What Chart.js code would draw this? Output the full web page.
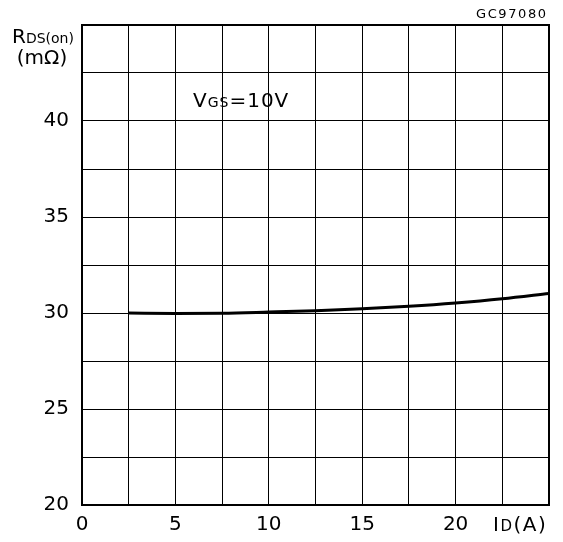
<!DOCTYPE html>
<html>
<head>
<meta charset="utf-8">
<script src="https://cdn.jsdelivr.net/npm/chart.js@4.4.1/dist/chart.umd.min.js"></script>
<style>
    html, body { margin: 0; padding: 0; background: #fff; }
    #wrap { width: 563px; height: 542px; }
</style>
</head>
<body>
<div id="wrap"><canvas id="rdsChart"></canvas></div>
<script>
// corriente de drenaje (A) y resistencia (mOhm)
const corriente = [2.5, 5, 7.5, 10, 12.5, 15, 17.5, 20, 22.5, 25];
const rdsOn = [30.0, 29.98, 29.99, 30.05, 30.12, 30.22, 30.35, 30.52, 30.74, 31.02];
const ticksX = [0, 5, 10, 15, 20];
const ticksY = [20, 25, 30, 35, 40];

const FONT = '"DejaVu Sans", sans-serif';

// dibuja texto con partes de distinto tamano (subindices), letra por letra
function textoMixto(ctx, partes, x, y, esp) {
    let cx = x;
    partes.forEach(p => {
        ctx.font = p.size + 'px ' + FONT;
        for (const ch of p.t) {
            ctx.fillText(ch, cx, y);
            cx += ctx.measureText(ch).width + (esp || 0);
        }
    });
}

const etiquetas = {
    id: 'etiquetas',
    afterDraw(chart) {
        const ctx = chart.ctx;
        const a = chart.chartArea;
        ctx.save();
        ctx.strokeStyle = '#000';
        ctx.lineWidth = 2;
        ctx.strokeRect(a.left, a.top, a.right - a.left, a.bottom - a.top);

        ctx.fillStyle = '#000';
        ctx.textAlign = 'left';
        ctx.textBaseline = 'alphabetic';

        // titulo eje Y
        textoMixto(ctx, [{ t: 'R', size: 20 }, { t: 'DS(on)', size: 14 }], 12, 43, 0);
        ctx.font = '20px ' + FONT;
        ctx.textAlign = 'center';
        ctx.fillText('(m\u03A9)', 42, 64);

        // titulo eje X
        ctx.textAlign = 'left';
        textoMixto(ctx, [{ t: 'I', size: 20 }, { t: 'D', size: 15 }, { t: '(A)', size: 20 }], 493, 531, 1.5);

        // condicion
        textoMixto(ctx, [{ t: 'V', size: 20 }, { t: 'GS', size: 14 }, { t: '=10V', size: 20 }], 193, 107, 1);

        // codigo figura
        textoMixto(ctx, [{ t: 'GC97080', size: 13 }], 476, 18, 1.6);
        ctx.restore();
    }
};

new Chart(document.getElementById('rdsChart').getContext('2d'), {
    type: 'line',
    data: {
        datasets: [{
            data: corriente.map((x, i) => ({ x: x, y: rdsOn[i] })),
            borderColor: '#000',
            borderWidth: 3,
            pointRadius: 0,
            fill: false,
            cubicInterpolationMode: 'monotone'
        }]
    },
    options: {
        responsive: true,
        maintainAspectRatio: false,
        animation: false,
        layout: { padding: { top: 24, right: 14, left: 0, bottom: 0 } },
        plugins: {
            legend: { display: false },
            tooltip: { enabled: false }
        },
        scales: {
            x: {
                type: 'linear',
                min: 0,
                max: 25,
                afterFit: s => { s.height = 37; },
                ticks: {
                    stepSize: 2.5,
                    autoSkip: false,
                    maxRotation: 0,
                    padding: 8,
                    color: '#000',
                    font: { size: 20, family: FONT },
                    callback: v => ticksX.includes(v) ? String(v) : ''
                },
                grid: { color: '#000', lineWidth: 1, drawTicks: false },
                border: { display: false }
            },
            y: {
                min: 20,
                max: 45,
                afterFit: s => { s.width = 82; },
                ticks: {
                    stepSize: 2.5,
                    autoSkip: false,
                    padding: 13,
                    color: '#000',
                    font: { size: 20, family: FONT },
                    callback: v => ticksY.includes(v) ? String(v) : ''
                },
                grid: { color: '#000', lineWidth: 1, drawTicks: false },
                border: { display: false }
            }
        }
    },
    plugins: [etiquetas]
});
</script>
</body>
</html>
